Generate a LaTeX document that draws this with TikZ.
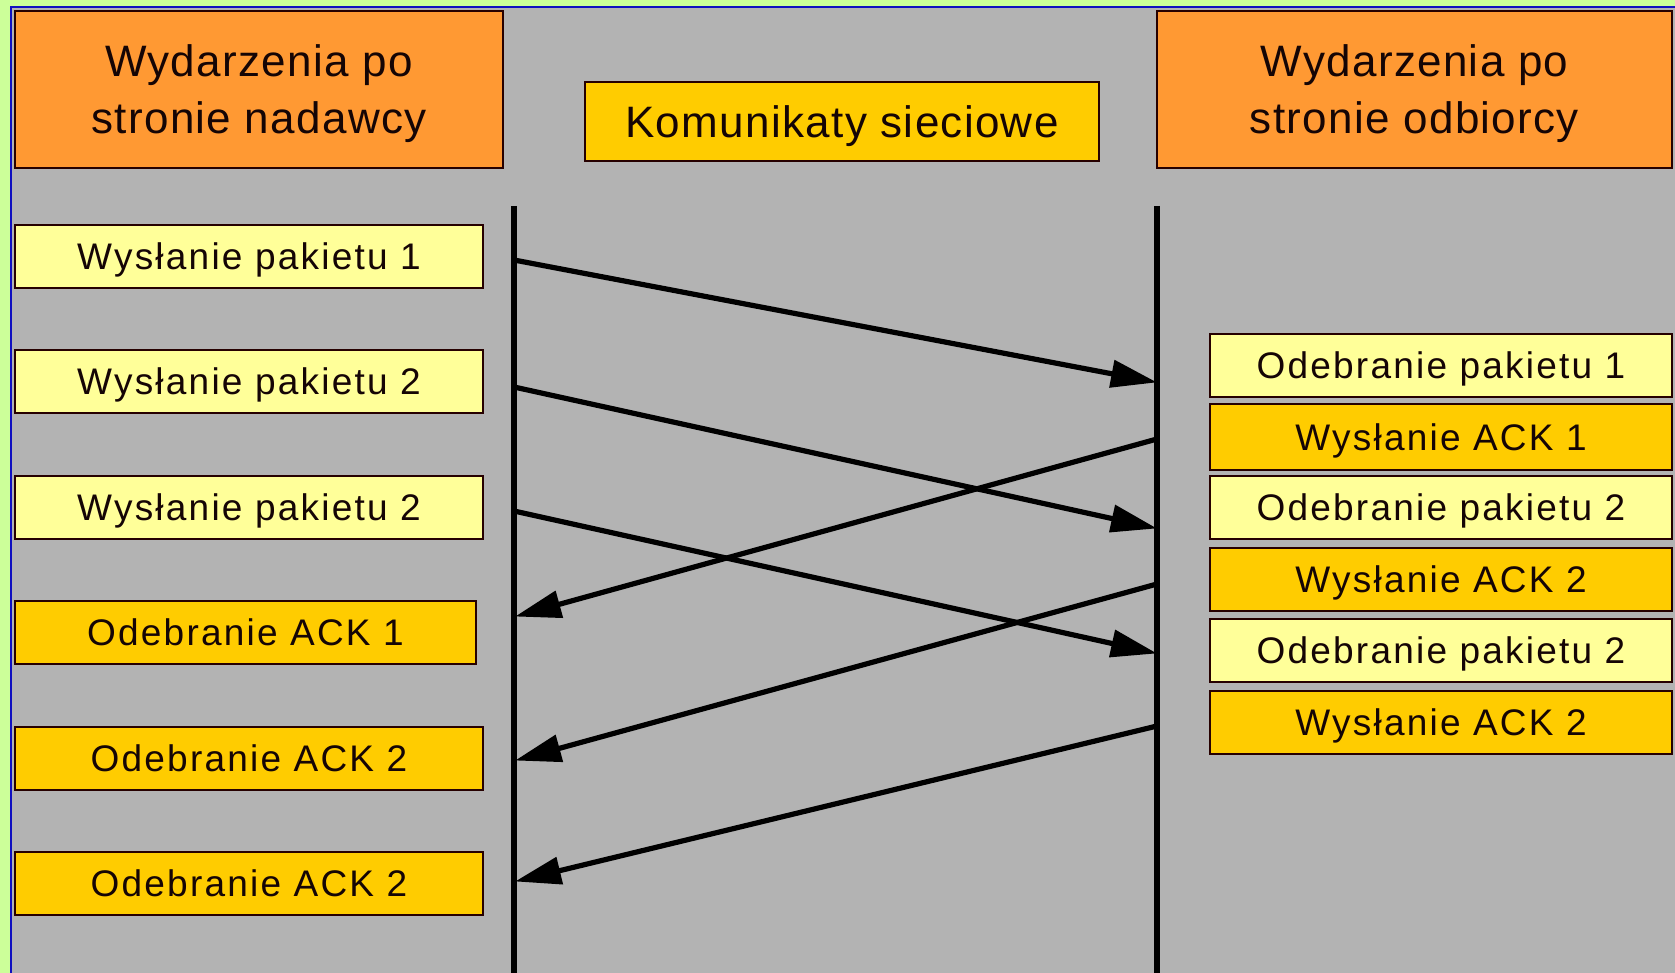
\documentclass[tikz,border=0pt]{standalone}
\usepackage{fontspec}
\setmainfont{Liberation Sans}
\newfontfamily\boxfont[LetterSpace=6]{Liberation Sans}
\newfontfamily\headfont[LetterSpace=3]{Liberation Sans}
\usetikzlibrary{arrows.meta}
\definecolor{panelgray}{HTML}{B3B3B3}
\definecolor{framegreen}{HTML}{CCFF99}
\definecolor{frameblue}{HTML}{1010C0}
\definecolor{headorange}{HTML}{FF9933}
\definecolor{pktyellow}{HTML}{FFFF99}
\definecolor{ackgold}{HTML}{FFCC00}
\definecolor{inkdark}{HTML}{150505}
\tikzset{
  evbox/.style={draw=black!85!red, line width=1pt, inner sep=0pt, minimum height=31.5pt,
    text=inkdark, text height=13pt, text depth=0pt,
    font=\boxfont\fontsize{18.5pt}{23pt}\selectfont},
  pktbox/.style={evbox, fill=pktyellow},
  ackbox/.style={evbox, fill=ackgold},
  headbox/.style={draw=black!85!red, line width=1pt, fill=headorange, inner sep=0pt,
    text=inkdark, align=center, text depth=0pt,
    font=\headfont\fontsize{22pt}{28.5pt}\selectfont},
  lifeline/.style={line width=2.6pt},
  msg/.style={line width=2.6pt, -{Triangle[length=23pt, width=13.5pt]}, shorten >=-1pt}
}
\begin{document}
\begin{tikzpicture}[x=0.5pt,y=-0.5pt]
\useasboundingbox (0,0) rectangle (1675,973);
% frame and panel
\fill[framegreen] (0,0) rectangle (1675,973);
\fill[panelgray] (11,7) rectangle (1675,973);
\draw[frameblue, line width=1pt] (11,973) -- (11,7) -- (1675,7);

% column headers
\node[headbox, minimum width=244pt, minimum height=78.5pt] (hsend) at (259,89.5)
  {Wydarzenia po\\stronie nadawcy};
\node[headbox, minimum width=257.5pt, minimum height=78.5pt] (hrecv) at (1414.5,89.5)
  {Wydarzenia po\\stronie odbiorcy};
\node[headbox, fill=ackgold, minimum width=257pt, minimum height=39.5pt, text height=16pt]
  (hnet) at (842,121.5) {Komunikaty sieciowe};

% sender events
\node[pktbox, minimum width=234pt] (wp1) at (249,256.5) {Wysłanie pakietu 1};
\node[pktbox, minimum width=234pt] (wp2a) at (249,381.5) {Wysłanie pakietu 2};
\node[pktbox, minimum width=234pt] (wp2b) at (249,507) {Wysłanie pakietu 2};
\node[ackbox, minimum width=230.5pt] (ra1) at (245.5,632) {Odebranie ACK 1};
\node[ackbox, minimum width=234pt] (ra2a) at (249,758) {Odebranie ACK 2};
\node[ackbox, minimum width=234pt] (ra2b) at (249,883) {Odebranie ACK 2};

% receiver events
\node[pktbox, minimum width=231pt] (op1) at (1441,365) {Odebranie pakietu 1};
\node[ackbox, minimum width=231pt, minimum height=33pt] (wa1) at (1441,437) {Wysłanie ACK 1};
\node[pktbox, minimum width=231pt] (op2a) at (1441,507) {Odebranie pakietu 2};
\node[ackbox, minimum width=231pt] (wa2a) at (1441,579) {Wysłanie ACK 2};
\node[pktbox, minimum width=231pt] (op2b) at (1441,650.5) {Odebranie pakietu 2};
\node[ackbox, minimum width=231pt] (wa2b) at (1441,722.5) {Wysłanie ACK 2};

% lifelines
\coordinate (stop) at (514,206);
\coordinate (sbot) at (514,973);
\coordinate (rtop) at (1157,206);
\coordinate (rbot) at (1157,973);
\draw[lifeline] (stop) -- (sbot);
\draw[lifeline] (rtop) -- (rbot);

% message end points on the lifelines
\coordinate (s1) at (514,260);
\coordinate (s2) at (514,387);
\coordinate (s3) at (514,511);
\coordinate (r1) at (1155,382);
\coordinate (r2) at (1155,528);
\coordinate (r3) at (1155,653);
\coordinate (k1) at (1157,439);
\coordinate (k2) at (1157,584);
\coordinate (k3) at (1157,726);
\coordinate (a1) at (517,616);
\coordinate (a2) at (517,760);
\coordinate (a3) at (517,881);

% messages
\draw[msg] (s1) -- (r1);
\draw[msg] (s2) -- (r2);
\draw[msg] (s3) -- (r3);
\draw[msg] (k1) -- (a1);
\draw[msg] (k2) -- (a2);
\draw[msg] (k3) -- (a3);
\end{tikzpicture}
\end{document}
